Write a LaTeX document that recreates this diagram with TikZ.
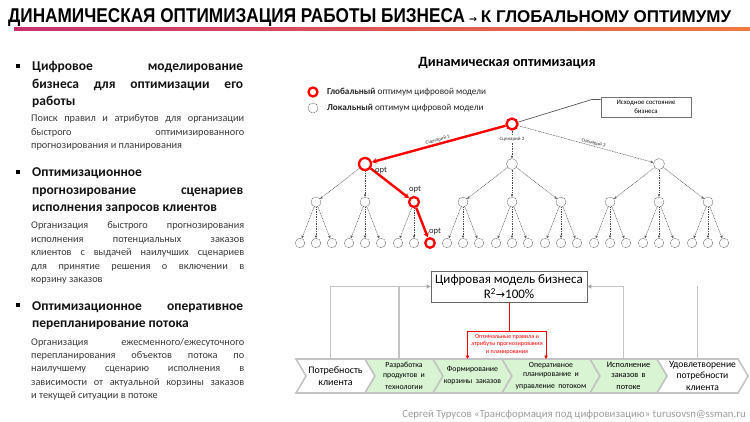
\documentclass[tikz,border=0pt]{standalone}
\usepackage{fontspec}
\setmainfont{Carlito}
\newfontfamily\titlefont[FakeStretch=0.86]{Liberation Sans}
\newfontfamily\subtitlefont{Liberation Sans}
\newfontfamily\arrowfont{DejaVu Sans}
\usetikzlibrary{arrows.meta,calc}
\definecolor{gline}{HTML}{C4C4C4}
\definecolor{chgreen}{HTML}{D8F4D2}
\definecolor{tgray}{HTML}{3A3A3A}
\definecolor{gradA}{HTML}{C8306E}
\definecolor{gradB}{HTML}{F07B3F}
\tikzset{
  head/.style={anchor=base west, inner sep=0, text width=211pt, align=justify,
    font=\bfseries\fontsize{13.5}{17.5}\selectfont, text=black!92},
  body/.style={anchor=base west, inner sep=0, text width=213pt, align=justify,
    font=\fontsize{10.3}{13.4}\selectfont, text=tgray},
  bul/.style={fill=black, minimum size=4pt, inner sep=0},
  lnode/.style={circle, draw=black!65, line width=0.45pt, dash pattern=on 1pt off 0.6pt,
    fill=white, minimum size=9pt, inner sep=0},
  rnode/.style={circle, draw=red, line width=2.3pt, fill=white, minimum size=9pt, inner sep=0},
  ed/.style={draw=black!70, line width=0.45pt, dash pattern=on 1pt off 0.7pt,
    -{Stealth[length=2.8pt,width=2.4pt]}},
  redge/.style={draw=red, line width=2.4pt, -{Stealth[length=5pt,width=5.5pt]}},
  scen/.style={font=\fontsize{5}{6}\selectfont, inner sep=0.6pt, text=black!80},
  optl/.style={font=\fontsize{8.5}{9}\selectfont, inner sep=0, text=black!85},
  gl/.style={draw=gline, line width=1.3pt},
  garr/.style={-{Triangle[length=4pt,width=4pt,color=black!35]}},
  rl/.style={draw=red, line width=0.8pt},
  rarr/.style={-{Triangle[length=3.5pt,width=3.5pt]}},
  chev/.style={draw=gline, line width=1.6pt},
}
\newcommand\chevron[6]{% name, L, R, fill, textwidth, text/font
  \path[chev, fill=#4] (#2,359) -- (#3,359) -- (#3+10,376) -- (#3,393) -- (#2,393) -- (#2+10,376) -- cycle;
  \node[align=center, text width=#5, inner sep=0] (#1) at ({(#2+#3+10)/2},376) {#6};
  \coordinate (#1t) at ({(#2+#3)/2},359);
}
\begin{document}
\begin{tikzpicture}[x=1pt,y=-1pt]
\useasboundingbox[fill=white] (0,0) rectangle (750,422);
% title
\node[anchor=base west, inner sep=0, font=\titlefont\bfseries\fontsize{20}{22}\selectfont] (title) at (8,23)
  {ДИНАМИЧЕСКАЯ ОПТИМИЗАЦИЯ РАБОТЫ БИЗНЕСА\hspace{4pt}{\arrowfont\fontsize{9.5}{12}\selectfont →}\hspace{4pt}{\subtitlefont\bfseries\fontsize{17}{18}\selectfont К ГЛОБАЛЬНОМУ ОПТИМУМУ}};
\shade[left color=gradA, right color=gradB] (14,27.5) rectangle (750,30.5);

% left column
\node[bul] (b1) at (17.5,66) {};
\node[head] (h1) at (32,71) {Цифровое моделирование\linebreak бизнеса для оптимизации его\linebreak работы};
\node[body] (t1) at (31,122) {Поиск правил и атрибутов для организации\linebreak быстрого оптимизированного\linebreak прогнозирования и планирования};
\node[bul] (b2) at (17.5,172) {};
\node[head] (h2) at (32,177) {Оптимизационное\newline прогнозирование сценариев\linebreak исполнения запросов клиентов};
\node[body] (t2) at (31,229) {Организация быстрого прогнозирования\linebreak исполнения потенциальных заказов\linebreak клиентов с выдачей наилучших сценариев\linebreak для принятие решения о включении в\linebreak корзину заказов};
\node[bul] (b3) at (17.5,305) {};
\node[head] (h3) at (32,310) {Оптимизационное оперативное\linebreak перепланирование потока};
\node[body] (t3) at (31,345) {Организация ежесменного/ежесуточного\linebreak перепланирования объектов потока по\linebreak наилучшему сценарию исполнения в\linebreak зависимости от актуальной корзины заказов\linebreak и текущей ситуации в потоке};

% right heading
\node[font=\bfseries\fontsize{14.2}{16}\selectfont] (dtitle) at (507,63) {Динамическая оптимизация};

% legend
\node[rnode, minimum size=9pt] (lg1) at (313,92) {};
\node[anchor=west, inner sep=0, font=\fontsize{9.2}{10}\selectfont, text=black!85] (lg1t) at (327,92) {\textbf{Глобальный} оптимум цифровой модели};
\node[lnode, minimum size=10pt] (lg2) at (313,108) {};
\node[anchor=west, inner sep=0, font=\fontsize{9.2}{10}\selectfont, text=black!85] (lg2t) at (327,108) {\textbf{Локальный} оптимум цифровой модели};

% initial state box
\node[draw=black!55, line width=0.8pt, minimum width=90pt, minimum height=20pt, align=center,
  inner sep=1pt, font=\fontsize{6.8}{8.8}\selectfont] (init) at (646,107) {Исходное состояние\\бизнеса};

% tree nodes
\node[rnode, minimum size=11pt] (r) at (512,124) {};
\node[rnode, minimum size=12pt] (a1) at (365,164) {};
\node[lnode, minimum size=11pt] (a2) at (512,164) {};
\node[lnode, minimum size=11pt] (a3) at (659,164) {};
\foreach \i in {1,...,9} {
  \pgfmathsetmacro\bx{316+49*(\i-1)}
  \ifnum\i=3 \def\st{rnode}\else\def\st{lnode}\fi
  \node[\st, minimum size=10pt] (b\i) at (\bx,202) {};
  \foreach \j in {1,2,3} {
    \pgfmathsetmacro\cx{\bx+16*(\j-2)}
    \ifnum\i=3 \ifnum\j=3 \def\st{rnode}\else\def\st{lnode}\fi \else\def\st{lnode}\fi
    \node[\st, minimum size=9.5pt] (c\i\j) at (\cx,243) {};
  }
}
% tree edges
\draw[gray!70!black, line width=0.7pt] (r) -- ($(init.north west)+(-9,3)$) -- ($(init.north west)+(0,3)$);
\draw[redge] (r) -- node[sloped, above, scen, pos=0.5] {Сценарий 1} (a1);
\draw[ed] (r) -- node[scen, fill=white, pos=0.3] {Сценарий 2} (a2);
\draw[ed] (r) -- node[sloped, above, scen, pos=0.55] {Сценарий 3} (a3);
\foreach \i in {1,2,3} {
  \foreach \k in {1,2,3} {
    \pgfmathtruncatemacro\bb{3*(\i-1)+\k}
    \ifnum\bb=3 \def\st{redge}\else\def\st{ed}\fi
    \draw[\st] (a\i) -- (b\bb);
  }
}
\foreach \i in {1,...,9} {
  \foreach \j in {1,2,3} {
    \ifnum\i=3 \ifnum\j=3 \def\st{redge}\else\def\st{ed}\fi \else\def\st{ed}\fi
    \draw[\st] (b\i) -- (c\i\j);
  }
}
\node[optl, anchor=west] (o1) at (375,170) {opt};
\node[optl] (o2) at (415,189) {opt};
\node[optl] (o3) at (435,231) {opt};

% digital model
\node[draw=black!60, line width=0.8pt, minimum width=156pt, minimum height=31pt, align=center,
  inner sep=1pt, font=\fontsize{13}{15}\selectfont] (model) at (509,286.5)
  {Цифровая модель бизнеса\\R\textsuperscript{2}{\arrowfont\fontsize{11}{13}\selectfont →}100\%};

% chevrons
\chevron{ch1}{296}{365}{white}{62pt}{\fontsize{10}{11}\selectfont Потребность\\клиента}
\chevron{ch2}{365}{433}{chgreen}{62pt}{\fontsize{7.8}{9.6}\selectfont Разработка\\продуктов и\\технологии}
\chevron{ch3}{433}{502}{chgreen}{64pt}{\fontsize{7.8}{9.6}\selectfont Формирование\\корзины заказов}
\chevron{ch4}{502}{590}{chgreen}{82pt}{\fontsize{7.8}{9.6}\selectfont Оперативное\\планирование и\\управление потоком}
\chevron{ch5}{590}{657}{chgreen}{62pt}{\fontsize{8.3}{10}\selectfont Исполнение\\заказов в\\потоке}
\chevron{ch6}{657}{738}{white}{76pt}{\fontsize{9.6}{11}\selectfont Удовлетворение\\потребности\\клиента}

% connectors to model
\draw[gl, garr] (ch1t) |- (model.west);
\draw[gl] (ch2t) -- (ch2t |- model.west);
\draw[gl, garr] (ch5t) |- (model.east);
\draw[gl] (ch6t) -- (ch6t |- model.east);
\coordinate (rj) at ($(model.south)+(0,29)$);
\draw[rl] (model.south) -- (rj);
\draw[rl, rarr] (rj) -| (ch3t);
\draw[rl, rarr] (rj) -| (ch4t);
\node[font=\fontsize{6.1}{7.6}\selectfont, text=red, align=center, inner sep=0] (rlab) at (507,344.5)
  {Оптимальные правила и\\атрибуты прогнозирования\\и планирования};

% footer
\node[anchor=base east, inner sep=0, font=\fontsize{10.8}{12}\selectfont, text=black!38] (foot) at (746,417)
  {Сергей Турусов «Трансформация под цифровизацию» turusovsn@ssman.ru};
\end{tikzpicture}
\end{document}
